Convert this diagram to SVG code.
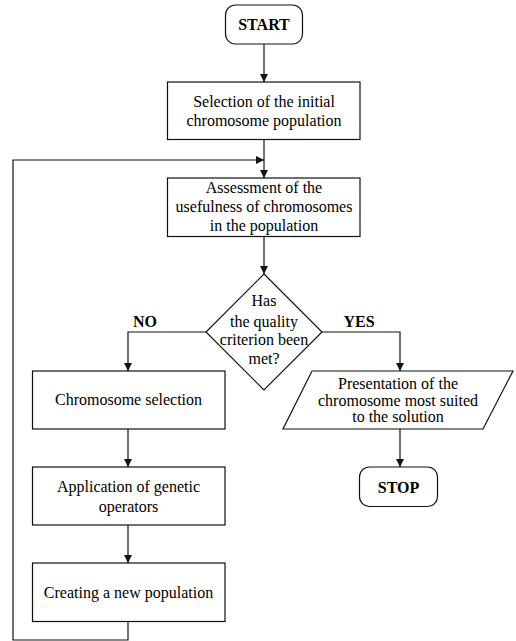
<svg xmlns="http://www.w3.org/2000/svg" width="516" height="641" viewBox="0 0 516 641">
<style>
.s{fill:#fff;stroke:#111;stroke-width:1.2}
.c{fill:none;stroke:#111;stroke-width:1.2}
text{font-family:'Liberation Serif','Times New Roman','DejaVu Serif',serif;font-size:16px;fill:#000;text-anchor:middle}
.b{font-weight:bold}
</style>
<defs>
<marker id="ah" markerUnits="userSpaceOnUse" markerWidth="8" markerHeight="8" refX="8" refY="4" orient="auto">
<path d="M0,0 L8,4 L0,8 z" fill="#111"/>
</marker>
</defs>
<rect width="516" height="641" fill="#fff"/>
<g font-family="Liberation Serif, Times New Roman, DejaVu Serif, serif">
<g id="connectors">
<line class="c" x1="264" y1="44" x2="264" y2="82" marker-end="url(#ah)"/>
<line class="c" x1="264" y1="139.5" x2="264" y2="178" marker-end="url(#ah)"/>
<line class="c" x1="264" y1="236.5" x2="264" y2="274" marker-end="url(#ah)"/>
<polyline class="c" points="206,332 128,332 128,371" marker-end="url(#ah)"/>
<polyline class="c" points="322,332 400,332 400,371" marker-end="url(#ah)"/>
<line class="c" x1="128" y1="429" x2="128" y2="467" marker-end="url(#ah)"/>
<line class="c" x1="128" y1="525" x2="128" y2="563" marker-end="url(#ah)"/>
<line class="c" x1="400" y1="429" x2="400" y2="467" marker-end="url(#ah)"/>
<polyline class="c" points="128,621.5 128,640 13,640 13,160 264,160" marker-end="url(#ah)"/>
<text class="b" x="145" y="327">NO</text>
<text class="b" x="359" y="327">YES</text>
</g>
<g id="start">
<rect class="s" x="225.5" y="5" width="77" height="39" rx="10"/>
<text class="b" x="264" y="30">START</text>
</g>
<g id="init">
<rect class="s" x="167.5" y="82" width="192.5" height="57.5"/>
<text x="264" y="107">Selection of the initial</text>
<text x="264" y="126">chromosome population</text>
</g>
<g id="assess">
<rect class="s" x="167.5" y="178" width="192.5" height="58.5"/>
<text x="264" y="193">Assessment of the</text>
<text x="264" y="212">usefulness of chromosomes</text>
<text x="264" y="231">in the population</text>
</g>
<g id="decision">
<polygon class="s" points="264,274 322,332 264,390 206,332"/>
<text x="264" y="306">Has</text>
<text x="264" y="327">the quality</text>
<text x="264" y="345">criterion been</text>
<text x="264" y="364">met?</text>
</g>
<g id="selection">
<rect class="s" x="32.5" y="371" width="192.5" height="58"/>
<text x="128.5" y="405">Chromosome selection</text>
</g>
<g id="present">
<polygon class="s" points="312,371 513,371 483,429 283,429"/>
<text x="398" y="389">Presentation of the</text>
<text x="398" y="406">chromosome most suited</text>
<text x="398" y="422">to the solution</text>
</g>
<g id="operators">
<rect class="s" x="32.5" y="467" width="192.5" height="58"/>
<text x="128.5" y="492">Application of genetic</text>
<text x="128.5" y="512">operators</text>
</g>
<g id="newpop">
<rect class="s" x="32.5" y="563" width="192.5" height="58.5"/>
<text x="128.5" y="598">Creating a new population</text>
</g>
<g id="stop">
<rect class="s" x="359.5" y="467" width="78" height="39.5" rx="10"/>
<text class="b" x="398.5" y="493">STOP</text>
</g>
</g>
</svg>
